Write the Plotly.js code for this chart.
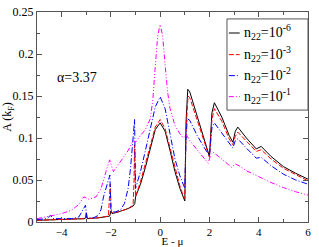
<!DOCTYPE html>
<html>
<head>
<meta charset="utf-8">
<script src="https://cdn.plot.ly/plotly-3.0.1.min.js"></script>
<style>html,body{margin:0;padding:0;background:#fff;font-family:'Liberation Serif';}#chart{width:319px;height:247px;}
#chart svg text{font-family:'Liberation Serif' !important;}</style>
</head>
<body>
<div id="chart"></div>
<script>
// n22 = 1e-6 (black, solid)
const eBlack = [-5,-4.5,-4,-3.5,-3.05,-3.0,-2.95,-2.5,-2.05,-2.0,-1.95,-1.7,-1.5,-1.3,-1.1,-1.03,-1.0,-0.8,-0.6,-0.4,-0.2,0,0.2,0.4,0.6,0.8,0.95,1.0,1.05,1.12,1.2,1.4,1.7,1.95,2.0,2.1,2.2,2.5,2.8,2.95,3.05,3.15,3.5,3.9,4.1,4.5,5,5.5,6];
const aBlack = [0.002,0.0025,0.003,0.0035,0.004,0.007,0.004,0.005,0.007,0.013,0.01,0.012,0.014,0.016,0.019,0.022,0.03,0.045,0.065,0.088,0.11,0.118,0.108,0.085,0.06,0.04,0.027,0.025,0.12,0.158,0.155,0.135,0.108,0.08,0.078,0.13,0.142,0.125,0.103,0.095,0.108,0.113,0.1,0.087,0.09,0.078,0.066,0.058,0.051];

// n22 = 1e-3 (red, dashed)
const eRed = [-5,-4.5,-4,-3.5,-3.05,-3.0,-2.95,-2.5,-2.1,-2.03,-1.98,-1.7,-1.5,-1.3,-1.1,-1.06,-1.04,-1.0,-0.8,-0.6,-0.4,-0.2,0,0.2,0.4,0.6,0.8,0.95,1.0,1.05,1.13,1.2,1.4,1.7,1.95,2.0,2.1,2.2,2.5,2.8,2.95,3.05,3.15,3.5,3.9,4.1,4.5,5,5.5,6];
const aRed = [0.002,0.0025,0.003,0.0035,0.004,0.012,0.004,0.005,0.007,0.045,0.011,0.012,0.014,0.016,0.02,0.05,0.092,0.03,0.048,0.068,0.091,0.113,0.122,0.111,0.088,0.063,0.043,0.03,0.028,0.11,0.15,0.148,0.13,0.104,0.079,0.077,0.122,0.135,0.12,0.099,0.092,0.102,0.107,0.096,0.084,0.086,0.075,0.064,0.056,0.049];

// n22 = 1e-2 (blue, dash-dot)
const eBlue = [-5,-4.6,-4.45,-4.35,-4,-3.6,-3.3,-3.15,-3.03,-2.98,-2.7,-2.5,-2.4,-2.3,-2.15,-2.04,-2.0,-1.8,-1.6,-1.45,-1.3,-1.2,-1.1,-1.04,-1.0,-0.8,-0.6,-0.4,-0.2,0,0.2,0.4,0.6,0.8,0.95,1.0,1.05,1.1,1.2,1.5,1.8,1.95,2.0,2.1,2.2,2.5,2.8,2.95,3.05,3.15,3.5,3.9,4.1,4.5,5,5.5,6];
const aBlue = [0.003,0.004,0.008,0.004,0.004,0.004,0.006,0.013,0.02,0.005,0.005,0.008,0.015,0.03,0.047,0.056,0.012,0.012,0.015,0.022,0.04,0.065,0.1,0.122,0.04,0.06,0.085,0.11,0.137,0.149,0.135,0.105,0.075,0.055,0.043,0.04,0.1,0.123,0.121,0.103,0.088,0.08,0.079,0.112,0.118,0.106,0.093,0.088,0.097,0.099,0.088,0.076,0.077,0.067,0.057,0.05,0.045];

// n22 = 1e-1 (magenta, dash-dot-dot)
const eMag = [-5,-4.5,-4,-3.6,-3.3,-3.1,-2.9,-2.6,-2.4,-2.2,-2.05,-1.9,-1.6,-1.3,-1.1,-1.0,-0.8,-0.6,-0.4,-0.3,-0.2,-0.1,0,0.1,0.2,0.3,0.4,0.6,0.8,0.95,1.05,1.2,1.5,1.8,1.95,2.05,2.15,2.5,2.9,3.05,3.2,3.5,4,4.5,5,5.5,6];
const aMag = [0.004,0.007,0.01,0.014,0.021,0.03,0.027,0.03,0.04,0.06,0.074,0.06,0.072,0.085,0.097,0.095,0.103,0.11,0.123,0.145,0.185,0.222,0.235,0.222,0.187,0.155,0.135,0.115,0.105,0.1,0.104,0.097,0.086,0.075,0.07,0.08,0.083,0.075,0.065,0.069,0.067,0.061,0.054,0.047,0.041,0.036,0.032];

const legendLabels = ['n<sub>22</sub>=10<sup>-6</sup>','n<sub>22</sub>=10<sup>-3</sup>','n<sub>22</sub>=10<sup>-2</sup>','n<sub>22</sub>=10<sup>-1</sup>'];
const annotationText = 'α=3.37';
const xTitle = 'E - μ';
const yTitle = 'A (k<sub>F</sub>)';

const FONT = 'Liberation Serif';
const colors = ['#000000','#ff0000','#0000ff','#ff00ff'];
const dashes = ['solid','5px,2px','6px,2px,1px,2px','5px,2px,1px,2px,1px,2px'];
const series = [[eBlack,aBlack],[eRed,aRed],[eBlue,aBlue],[eMag,aMag]];

function draw(){
  const traces = series.map((s,i)=>({
    x: s[0], y: s[1], type:'scatter', mode:'lines',
    line:{color:colors[i], width:1, dash:dashes[i]},
    showlegend:false, hoverinfo:'skip'
  }));

  const shapes = [{type:'rect', xref:'paper', yref:'paper', x0:0.701, x1:1.0, y0:0.533, y1:0.967,
    line:{color:'#555', width:1}, fillcolor:'rgba(255,255,255,1)', layer:'above'}];
  const annotations = [
    {xref:'paper', yref:'paper', x:0.066, y:0.69, xanchor:'left', yanchor:'middle',
     text:annotationText, showarrow:false, font:{family:FONT, size:14, color:'#000'}}
  ];
  const rowY = [0.9,0.797,0.697,0.597];
  legendLabels.forEach((lab,i)=>{
    shapes.push({type:'line', xref:'paper', yref:'paper', x0:0.708, x1:0.748, y0:rowY[i], y1:rowY[i],
      line:{color:colors[i], width:1, dash:dashes[i]}, layer:'above'});
    annotations.push({xref:'paper', yref:'paper', x:0.758, y:rowY[i]+0.005, xanchor:'left', yanchor:'middle',
      text:lab, showarrow:false, font:{family:FONT, size:14, color:'#000'}});
  });

  const axisCommon = {
    showline:true, linecolor:'#555', linewidth:1, mirror:'allticks',
    ticks:'inside', ticklen:5, tickwidth:1, tickcolor:'#555',
    showgrid:false, zeroline:false,
    tickfont:{family:FONT, size:12, color:'#000'}
  };

  const layout = {
    width:319, height:247,
    margin:{l:37, r:11, t:12, b:25},
    paper_bgcolor:'#fff', plot_bgcolor:'#fff',
    font:{family:FONT, size:12, color:'#000'},
    xaxis: Object.assign({}, axisCommon, {
      range:[-5,6], tick0:0, dtick:2,
      tickfont:{family:FONT, size:11, color:'#000'},
      minor:{dtick:1, ticks:'inside', ticklen:3, tickcolor:'#555'},
      title:{text:xTitle, font:{family:FONT, size:11, color:'#000'}, standoff:0}
    }),
    yaxis: Object.assign({}, axisCommon, {
      range:[0,0.25], tick0:0, dtick:0.05,
      minor:{dtick:0.025, ticks:'inside', ticklen:3, tickcolor:'#555'},
      title:{text:yTitle, font:{family:FONT, size:12, color:'#000'}, standoff:4}
    }),
    shapes: shapes,
    annotations: annotations
  };

  Plotly.newPlot('chart', traces, layout, {displayModeBar:false, staticPlot:true});
}

if (document.fonts && document.fonts.load) {
  document.fonts.load("12px 'Liberation Serif'", "Eμα0.25").then(draw, draw);
} else {
  draw();
}
</script>
</body>
</html>
